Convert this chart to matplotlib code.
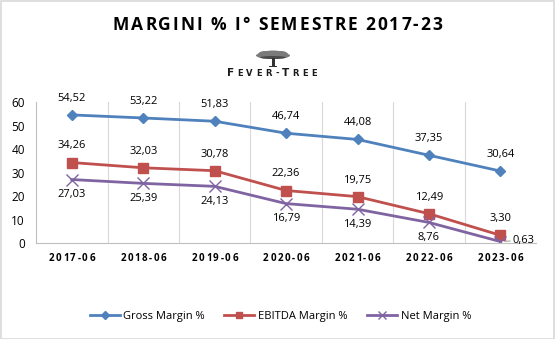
import numpy as np
import matplotlib.pyplot as plt
from matplotlib.patches import Rectangle, Ellipse
from matplotlib.font_manager import FontProperties
from matplotlib.textpath import TextToPath

periodi = ["2017-06", "2018-06", "2019-06", "2020-06", "2021-06", "2022-06", "2023-06"]
gross = [54.52, 53.22, 51.83, 46.74, 44.08, 37.35, 30.64]
ebitda = [34.26, 32.03, 30.78, 22.36, 19.75, 12.49, 3.30]
netto = [27.03, 25.39, 24.13, 16.79, 14.39, 8.76, 0.63]

DPI = 100
W, H = 555, 339

plt.rcParams['font.family'] = ['Open Sans', 'DejaVu Sans']
t2p = TextToPath()


def fmt(v):
    return f"{v:.2f}".replace(".", ",")


def larghezza(ch, prop):
    # larghezza di avanzamento in pixel
    if ch == " ":
        w2 = t2p.get_text_width_height_descent("a a", prop, ismath=False)[0]
        w1 = t2p.get_text_width_height_descent("aa", prop, ismath=False)[0]
        w = w2 - w1
    else:
        w = t2p.get_text_width_height_descent(ch, prop, ismath=False)[0]
    return w * DPI / 72


def testo_spaziato(fig, xc, yc, s, spazio, sizes, **kw):
    # scrive un testo lettera per lettera con spaziatura extra (pixel, coordinate figura)
    props = [FontProperties(family=kw.get("family", plt.rcParams['font.family']),
                            weight=kw.get("fontweight", "normal"), size=sz) for sz in sizes]
    ws = [larghezza(c, p) for c, p in zip(s, props)]
    tot = sum(ws) + spazio * (len(s) - 1)
    x = xc - tot / 2
    for c, w, sz in zip(s, ws, sizes):
        if c != " ":
            fig.text(x / W, yc / H, c, ha="left", va="baseline", fontsize=sz, **kw)
        x += w + spazio


fig = plt.figure(figsize=(W / DPI, H / DPI), dpi=DPI)
fig.patches.append(Rectangle((0.001, 0.001), 0.998, 0.997, transform=fig.transFigure,
                             fill=False, edgecolor="#d9d9d9", linewidth=1.2))

ax = fig.add_axes([0.065, 0.283, 0.901, 0.416])
x = np.arange(len(periodi))

ax.plot(x, gross, color="#4F81BD", marker="D", markersize=5.5, linewidth=2, label="Gross Margin %")
ax.plot(x, ebitda, color="#C0504D", marker="s", markersize=7, linewidth=2, label="EBITDA Margin %")
ax.plot(x, netto, color="#8064A2", marker="x", markersize=8, markeredgewidth=1, linewidth=2,
        label="Net Margin %")

for i in x:
    ax.annotate(fmt(gross[i]), (i, gross[i]), xytext=(0, 8), textcoords="offset points",
                ha="center", va="bottom", fontsize=8)
    ax.annotate(fmt(ebitda[i]), (i, ebitda[i]), xytext=(0, 8), textcoords="offset points",
                ha="center", va="bottom", fontsize=8)
    if i == len(x) - 1:
        ax.annotate(fmt(netto[i]), (i, netto[i]), xytext=(9, 1), textcoords="offset points",
                    ha="left", va="center", fontsize=8,
                    arrowprops=dict(arrowstyle="-", color="#a6a6a6", lw=0.8,
                                    shrinkA=0, shrinkB=3))
    else:
        ax.annotate(fmt(netto[i]), (i, netto[i]), xytext=(0, -7), textcoords="offset points",
                    ha="center", va="top", fontsize=8)

ax.set_xlim(-0.5, len(x) - 0.5)
ax.set_ylim(0, 60)
ax.set_yticks(range(0, 61, 10))
ax.set_xticks(x)
ax.set_xticklabels([])
ax.tick_params(axis="y", labelsize=8.5, length=0, pad=8)
ax.tick_params(axis="x", length=0)

# griglia verticale tra le categorie
for b in np.arange(0.5, len(x) - 0.5, 1):
    ax.axvline(b, color="#d9d9d9", linewidth=0.8, zorder=0)
for s in ["top", "right"]:
    ax.spines[s].set_visible(False)
for s in ["left", "bottom"]:
    ax.spines[s].set_color("#bfbfbf")

# etichette asse x spaziate
for i, p in enumerate(periodi):
    px = ax.transData.transform((i, 0))[0]
    testo_spaziato(fig, px, H - 261, p, 1.6, [7] * len(p), fontweight="bold")

testo_spaziato(fig, W / 2, H - 30, "MARGINI % I° SEMESTRE 2017-23", 1.9, [12.5] * 29,
               fontweight="bold")

# logo Fever-Tree: albero stilizzato + scritta
logo = fig.add_axes([254 / W, 1 - 67 / H, 38 / W, 17 / H])
logo.set_xlim(0, 38)
logo.set_ylim(0, 17)
logo.axis("off")
for cx, cy, w, h in [(19, 11.5, 34, 7), (11, 12.5, 14, 7), (27, 12.5, 14, 7), (19, 14, 20, 5)]:
    logo.add_patch(Ellipse((cx, cy), w, h, color="#7a7a7a", lw=0))
logo.add_patch(Ellipse((19, 9.5), 26, 3, color="#4a4a4a", lw=0))
logo.add_patch(Rectangle((17.5, 0.5), 3, 9, color="#333333", lw=0))
logo.add_patch(Rectangle((15, 0), 8, 1.2, color="#333333", lw=0))
nome = "FEVER-TREE"
dim = [7.5, 6, 6, 6, 6, 6, 7.5, 6, 6, 6]
testo_spaziato(fig, 272, H - 76, nome, 3.4, dim, family="DejaVu Sans", fontweight="bold",
               color="#1a1a1a")

fig.legend(loc="lower center", bbox_to_anchor=(0.505, 0.02), ncol=3, frameon=False,
           fontsize=8, handlelength=2.7, columnspacing=1.8, handletextpad=0.3, markerscale=0.7)

fig.savefig("out.png", dpi=DPI)
